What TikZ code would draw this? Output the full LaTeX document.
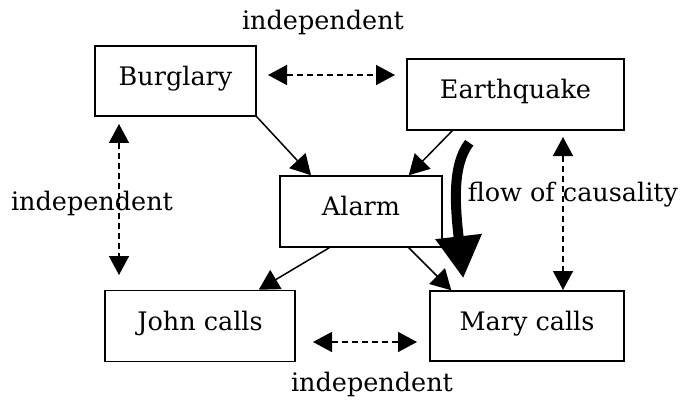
\documentclass[tikz,border=0pt]{standalone}
\usepackage{fontspec}
\setmainfont{DejaVu Serif}
\usetikzlibrary{arrows.meta,calc}
\begin{document}
\begin{tikzpicture}[x=1pt,y=-1pt,
  box/.style={draw,line width=1.5pt,inner sep=0pt,font=\fontsize{25.5}{30}\selectfont,text height=18pt,text depth=10pt},
  lbl/.style={font=\fontsize{25.5}{30}\selectfont,inner sep=0pt},
  causal/.style={line width=1.5pt,-{Triangle[length=20pt,width=22pt]}},
  indep/.style={line width=1.5pt,dash pattern=on 6pt off 4pt,{Triangle[length=19pt,width=20pt]}-{Triangle[length=19pt,width=20pt]}}]
\useasboundingbox (0,0) rectangle (681,404);
\node[box,minimum width=161pt,minimum height=70pt] (burglary) at (175.5,81) {Burglary};
\node[box,minimum width=217pt,minimum height=71pt] (earthquake) at (515.5,94.5) {Earthquake};
\node[box,minimum width=162pt,minimum height=71pt] (alarm) at (361,211.5) {Alarm};
\node[box,minimum width=190pt,minimum height=71pt] (john) at (200,326) {John calls};
\node[box,minimum width=194pt,minimum height=70pt] (mary) at (527,326) {Mary calls};
\draw[causal] (burglary.south east) -- ($(alarm.north)+(-50,0)$);
\draw[causal] ($(earthquake.south west)+(46,0)$) -- ($(alarm.north east)+(-34,0)$);
\draw[causal] ($(alarm.south west)+(50,0)$) -- ($(john.north east)+(-37,0)$);
\draw[causal] ($(alarm.south east)+(-34,0)$) -- ($(mary.north west)+(22,0)$);
\draw[line width=10pt,-{Triangle[length=42pt,width=44pt]}] ($(earthquake.south west)+(63,12)$) .. controls (452,165) and (455,205) .. ($(mary.north west)+(34,-12)$);
\coordinate (bq1) at (268,75); \coordinate (bq2) at (395,75);
\coordinate (bj1) at (119,124); \coordinate (bj2) at (119,275);
\coordinate (em1) at (563,137); \coordinate (em2) at (563,290);
\coordinate (jm1) at (313,342); \coordinate (jm2) at (417,342);
\draw[indep] (bq1) -- (bq2);
\draw[indep] (bj1) -- (bj2);
\draw[indep] (em1) -- (em2);
\draw[indep] (jm1) -- (jm2);
\node[lbl] (ind1) at (323,22) {independent};
\node[lbl] (ind2) at (92,203) {independent};
\node[lbl] (ind3) at (372,384) {independent};
\node[lbl] (flow) at (573,195) {flow of causality};
\end{tikzpicture}
\end{document}
